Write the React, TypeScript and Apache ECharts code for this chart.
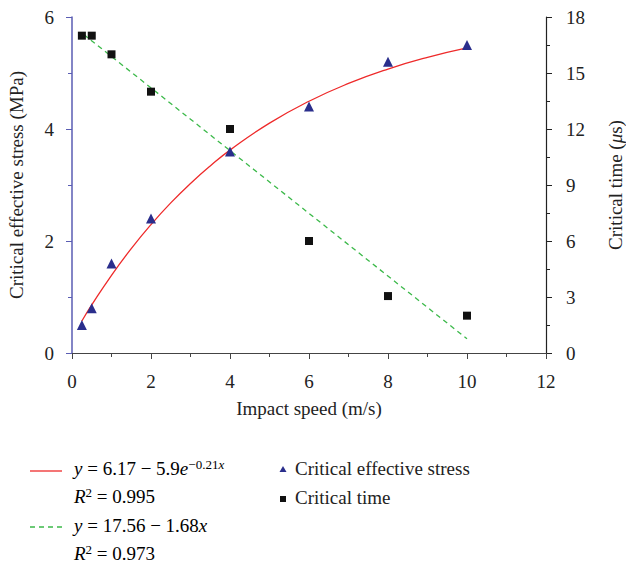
import React, { useEffect, useRef } from "react";
import * as echarts from "echarts";

const stressX = [0.25, 0.5, 1, 2, 4, 6, 8, 10];
const stressY = [0.5, 0.8, 1.6, 2.4, 3.6, 4.4, 5.2, 5.5];
const timeX = [0.25, 0.5, 1, 2, 4, 6, 8, 10];
const timeY = [17, 17, 16, 14, 12, 6, 3.05, 2];
// fitted curve y = 6.17 - 5.9 e^(-0.21x), sampled
const fitStressX = [0.25, 0.5, 1, 1.5, 2, 2.5, 3, 3.5, 4, 5, 6, 7, 8, 9, 10];
const fitStressY = [0.572, 0.858, 1.388, 1.864, 2.293, 2.68, 3.028, 3.341, 3.623, 4.105, 4.496, 4.813, 5.07, 5.279, 5.448];
// fitted line y = 17.56 - 1.68x
const fitTimeX = [0.3, 10];
const fitTimeY = [17.06, 0.76];

const xTicks = { min: 0, max: 12, interval: 2 };
const leftTicks = { min: 0, max: 6, interval: 2 };
const rightTicks = { min: 0, max: 18, interval: 3 };

const FONT = "Liberation Serif";
const FS = 19;
const BLUE_AXIS = "#5a5db3";
const TRI = "#2a2e8c";

export default function App() {
  const ref = useRef<HTMLDivElement>(null);
  useEffect(() => {
    if (!ref.current) return;
    const chart = echarts.init(ref.current, null, { renderer: "svg" });
    const zip = (a: number[], b: number[]) => a.map((v, i) => [v, b[i]]);
    const richBase = {
      i: { fontFamily: FONT, fontSize: FS, fontStyle: "italic", color: "#222" },
      n: { fontFamily: FONT, fontSize: FS, color: "#222" },
      sup: { fontFamily: FONT, fontSize: 13, color: "#222", verticalAlign: "top", padding: [0, 0, 8, 0] },
      supi: { fontFamily: FONT, fontSize: 13, fontStyle: "italic", color: "#222", verticalAlign: "top", padding: [0, 0, 8, 0] },
    };
    chart.setOption({
      animation: false,
      backgroundColor: "#fff",
      textStyle: { fontFamily: FONT },
      grid: { left: 72, right: 80, top: 17, bottom: 212, outerBoundsMode: "none", containLabel: false },
      xAxis: {
        type: "value",
        ...xTicks,
        name: "Impact speed (m/s)",
        nameLocation: "middle",
        nameGap: 46,
        nameTextStyle: { fontFamily: FONT, fontSize: FS, color: "#222" },
        axisLine: { lineStyle: { color: "#444", width: 1.2 } },
        axisTick: { length: 6, lineStyle: { color: "#444" } },
        minorTick: { show: true, splitNumber: 2, length: 4, lineStyle: { color: "#444" } },
        splitLine: { show: false },
        axisLabel: { fontFamily: FONT, fontSize: FS, color: "#222", margin: 19 },
      },
      yAxis: [
        {
          type: "value",
          position: "left",
          ...leftTicks,
          name: "Critical effective stress (MPa)",
          nameLocation: "middle",
          nameGap: 46,
          nameRotate: 90,
          nameTextStyle: { fontFamily: FONT, fontSize: FS, color: "#222" },
          axisLine: { show: true, lineStyle: { color: BLUE_AXIS, width: 1.5 } },
          axisTick: { show: true, length: 6, lineStyle: { color: BLUE_AXIS } },
          minorTick: { show: true, splitNumber: 2, length: 4, lineStyle: { color: BLUE_AXIS } },
          splitLine: { show: false },
          axisLabel: { fontFamily: FONT, fontSize: FS, color: "#222", margin: 18 },
        },
        {
          type: "value",
          position: "right",
          ...rightTicks,
          name: "Critical time ({it|μ}s)",
          nameLocation: "middle",
          nameGap: 60,
          nameRotate: 90,
          nameTextStyle: {
            fontFamily: FONT,
            fontSize: FS,
            color: "#222",
            rich: { it: { fontFamily: FONT, fontSize: FS, fontStyle: "italic", color: "#222" } },
          },
          axisLine: { show: true, lineStyle: { color: "#222", width: 1.2 } },
          axisTick: { show: true, length: 6, lineStyle: { color: "#222" } },
          minorTick: { show: true, splitNumber: 2, length: 4, lineStyle: { color: "#222" } },
          splitLine: { show: false },
          axisLabel: { fontFamily: FONT, fontSize: FS, color: "#222", margin: 20 },
        },
      ],
      series: [
        {
          name: "fitStress",
          type: "line",
          yAxisIndex: 0,
          data: zip(fitStressX, fitStressY),
          smooth: true,
          showSymbol: false,
          symbol: "none",
          lineStyle: { color: "#ee2a2a", width: 1.3 },
          z: 2,
        },
        {
          name: "fitTime",
          type: "line",
          yAxisIndex: 1,
          data: zip(fitTimeX, fitTimeY),
          showSymbol: false,
          symbol: "none",
          lineStyle: { color: "#3cb94a", width: 1.3, type: [5, 4] },
          z: 2,
        },
        {
          name: "Critical effective stress",
          type: "scatter",
          yAxisIndex: 0,
          data: zip(stressX, stressY),
          symbol: "triangle",
          symbolSize: 10,
          itemStyle: { color: TRI, opacity: 1 },
          z: 3,
        },
        {
          name: "Critical time",
          type: "scatter",
          yAxisIndex: 1,
          data: zip(timeX, timeY),
          symbol: "rect",
          symbolSize: 8,
          itemStyle: { color: "#111", opacity: 1 },
          z: 3,
        },
      ],
      graphic: [
        { type: "line", shape: { x1: 30, y1: 471, x2: 62, y2: 471 }, style: { stroke: "#ee2a2a", lineWidth: 1.3 } },
        {
          type: "text",
          x: 74,
          y: 458,
          style: {
            text: "{i|y}{n| = 6.17 − 5.9}{i|e}{sup|−0.21}{supi|x}",
            rich: richBase,
          },
        },
        {
          type: "text",
          x: 74,
          y: 486,
          style: { text: "{i|R}{sup|2}{n| = 0.995}", rich: richBase },
        },
        { type: "line", shape: { x1: 30, y1: 527, x2: 62, y2: 527 }, style: { stroke: "#3cb94a", lineWidth: 1.3, lineDash: [5, 4] } },
        {
          type: "text",
          x: 74,
          y: 516,
          style: { text: "{i|y}{n| = 17.56 − 1.68}{i|x}", rich: richBase },
        },
        {
          type: "text",
          x: 74,
          y: 543,
          style: { text: "{i|R}{sup|2}{n| = 0.973}", rich: richBase },
        },
        { type: "polygon", shape: { points: [[279.5, 472], [283, 466], [286.5, 472]] }, style: { fill: TRI } },
        { type: "text", x: 295, y: 459, style: { text: "Critical effective stress", fontFamily: FONT, fontSize: FS, fill: "#222" } },
        { type: "rect", shape: { x: 280, y: 496, width: 6, height: 6 }, style: { fill: "#111" } },
        { type: "text", x: 295, y: 488, style: { text: "Critical time", fontFamily: FONT, fontSize: FS, fill: "#222" } },
      ],
    });
    return () => chart.dispose();
  }, []);
  return <div ref={ref} style={{ position: "fixed", left: 0, top: 0, width: 626, height: 565 }} />;
}
